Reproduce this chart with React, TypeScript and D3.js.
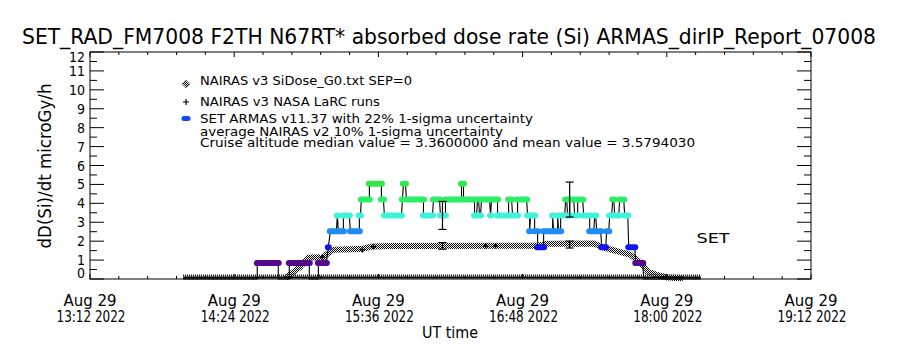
import React from 'react';
import * as d3 from 'd3';

const width = 900;
const height = 350;

// plot frame
const frameLeft = 90;
const frameRight = 811;
const frameTop = 52;
const frameBottom = 279;

const fontFamily = "'Liberation Sans Narrow', 'DejaVu Sans Condensed', 'Liberation Sans', sans-serif";

const titleText = 'SET_RAD_FM7008  F2TH N67RT* absorbed dose rate (Si) ARMAS_dirIP_Report_07008';
const yTitle = 'dD(Si)/dt microGy/h';
const xTitle = 'UT time';

// time axis: minutes after 13:12 UT, 29 Aug 2022
const startUT = new Date(Date.UTC(2022, 7, 29, 13, 12));
const spanMinutes = 360;
const xMajorMinutes = [0, 72, 144, 216, 288, 360];
const yTicks = [0, 1, 2, 3, 4, 5, 6, 7, 8, 9, 10, 11, 12];

// ARMAS dose levels and their plot colours
const doseLevels = [0.84, 1.68, 2.52, 3.36, 4.2, 5.04];
const levelColors = ['#55088c', '#1414ee', '#1e8cf4', '#40f2da', '#2aee66', '#34e64a'];

// SET ARMAS readings: runs of constant value [start min, end min, dose]
const armasRuns: [number, number, number][] = [
	[46.5, 83.5, 0], [83.5, 94, 0.84], [94, 99.5, 0], [99.5, 109.5, 0.84], [109.5, 114, 0],
	[114, 118, 0.84], [119, 119, 1.68], [120, 123, 2.52], [123.5, 123.5, 3.36], [124, 126.5, 2.52],
	[126.5, 129.5, 3.36], [130, 134.5, 2.52], [134.5, 135, 3.36], [135.5, 139.5, 4.2], [139.5, 145.5, 5.04],
	[145.5, 146.5, 4.2], [147, 155.5, 3.36], [156, 156, 4.2], [156.5, 157.5, 5.04], [158, 166.5, 4.2],
	[166.5, 171, 3.36], [171.5, 174.5, 4.2], [175, 177.5, 3.36], [177.5, 185.5, 4.2], [185.5, 186.5, 5.04],
	[186.5, 192, 4.2], [192, 193, 3.36], [193.5, 194, 4.2], [194.5, 195, 3.36], [195.5, 199.5, 4.2],
	[200, 200, 3.36], [200.5, 203.5, 4.2], [203.5, 209, 3.36], [209, 210.5, 4.2], [211, 213.5, 3.36],
	[213.5, 218, 4.2], [218.5, 219.5, 3.36], [219.5, 219.5, 2.52], [220, 222, 3.36], [222, 223.5, 2.52],
	[223.5, 226.5, 1.68], [226.5, 231, 2.52], [231, 231, 3.36], [231.5, 233.5, 2.52], [233.5, 233.5, 3.36],
	[234, 235, 2.52], [235, 237, 3.36], [237.5, 238, 4.2], [238.5, 239.5, 3.36], [239.5, 241.5, 4.2],
	[242, 243.5, 3.36], [243.5, 246, 4.2], [246.5, 249.5, 3.36], [249.5, 251.5, 2.52], [252, 252.5, 3.36],
	[253, 255, 2.52], [255.5, 257.5, 1.68], [258, 259, 2.52], [259.5, 260.5, 3.36], [261, 261.5, 4.2],
	[262, 264, 3.36], [264.5, 266.5, 4.2], [267, 268.5, 3.36], [269, 272, 1.68], [272.5, 276, 0.84],
	[276.5, 305, 0],
];

// NAIRAS v3 SiDose_G0 model
const nairasT = [97.5, 104.5, 109, 114, 116, 118, 121.5, 135, 141, 150, 223.5, 228.5, 251.5, 256.5, 265, 270, 275, 278.5, 285, 288.5, 296];
const nairasDose = [0.05, 0.6, 1.12, 1.15, 1.05, 1.3, 1.55, 1.58, 1.72, 1.75, 1.76, 1.86, 1.88, 1.66, 1.42, 1.27, 0.85, 0.38, 0.15, 0.08, 0.04];

// NAIRAS v3 NASA LaRC runs
const larcT = [116, 136, 141.5, 197.5, 202.5, 287.5];
const larcDose = [1.16, 1.53, 1.7, 1.75, 1.75, 0.1];
const groundSpan = [46.5, 305];

// 1-sigma error bars
const armasErrT = [176, 239.5];
const armasErrDose = [3.36, 4.2];
const armasSigma = 0.22;
const nairasErrT = [176, 239.5];
const nairasErrDose = [1.75, 1.82];
const nairasSigma = 0.1;

const legendLabels = [
	'NAIRAS v3 SiDose_G0.txt SEP=0',
	'NAIRAS v3 NASA LaRC runs',
	'SET ARMAS v11.37 with 22% 1-sigma uncertainty',
	'average NAIRAS v2 10% 1-sigma uncertainty',
	'Cruise altitude median value = 3.3600000 and mean value = 3.5794030',
];
const legendWidths = [212, 180, 333, 303, 495];
const legendBaselines = [85, 106, 123, 136, 147];

const App: React.FC = () => {
	const x = d3.scaleLinear().domain([0, spanMinutes]).range([frameLeft, frameRight]);
	const y = d3.scaleLinear().domain([0, 12]).range([frameBottom, frameTop]);
	const color = d3.scaleOrdinal<number, string>().domain(doseLevels).range(levelColors);

	const fmtDay = d3.utcFormat('%b %d');
	const fmtTime = d3.utcFormat('%H:%M %Y');
	const toDate = (m: number) => new Date(startUT.getTime() + m * 60000);

	const xMinor = d3.range(0, spanMinutes + 0.1, 14.4);
	const yMinor = d3.range(0.5, 12, 1);

	const nairasLine = d3.line<number>()
		.x(d => x(nairasT[d]))
		.y(d => y(nairasDose[d]));

	const armasPoints: [number, number][] = armasRuns.flatMap(([t0, t1, v]) => [[t0, v], [t1, v]] as [number, number][]);
	const armasLine = d3.line<[number, number]>()
		.x(d => x(d[0]))
		.y(d => y(d[1]));

	const errorBar = (t: number, v: number, s: number, key: string) => {
		const cx = x(t);
		const lo = y(v * (1 - s));
		const hi = y(v * (1 + s));
		return (
			<g key={key} stroke="black" strokeWidth={1.2}>
				<line x1={cx} x2={cx} y1={lo} y2={hi} />
				<line x1={cx - 4} x2={cx + 4} y1={lo} y2={lo} />
				<line x1={cx - 4} x2={cx + 4} y1={hi} y2={hi} />
			</g>
		);
	};

	return (
		<svg width={width} height={height} style={{ position: 'absolute', left: 0, top: 0, background: 'white' }}
			fontFamily={fontFamily}>
			<defs>
				<pattern id="dither" width={2} height={2} patternUnits="userSpaceOnUse">
					<rect x={0} y={0} width={1} height={1} fill="black" />
					<rect x={1} y={1} width={1} height={1} fill="black" />
				</pattern>
			</defs>
			<rect width={width} height={height} fill="white" />

			{/* title */}
			<text x={449} y={44} fontSize={21} textAnchor="middle" textLength={854} lengthAdjust="spacingAndGlyphs">
				{titleText}
			</text>

			{/* frame and ticks */}
			<rect x={frameLeft} y={frameTop} width={frameRight - frameLeft} height={frameBottom - frameTop}
				fill="none" stroke="black" strokeWidth={1} />
			<g stroke="black" strokeWidth={1}>
				{yTicks.map(v => (
					<g key={`yt${v}`}>
						<line x1={frameLeft} x2={frameLeft + 14} y1={y(v)} y2={y(v)} />
						<line x1={frameRight} x2={frameRight - 14} y1={y(v)} y2={y(v)} />
					</g>
				))}
				{yMinor.map(v => (
					<g key={`ym${v}`}>
						<line x1={frameLeft} x2={frameLeft + 7} y1={y(v)} y2={y(v)} />
						<line x1={frameRight} x2={frameRight - 7} y1={y(v)} y2={y(v)} />
					</g>
				))}
				{xMinor.map((m, i) => {
					const len = i % 5 === 0 ? 5 : 3;
					return (
						<g key={`xm${i}`}>
							<line x1={x(m)} x2={x(m)} y1={frameBottom} y2={frameBottom - len} />
							<line x1={x(m)} x2={x(m)} y1={frameTop} y2={frameTop + len} />
						</g>
					);
				})}
			</g>

			{/* y tick labels */}
			<g fontSize={14} textAnchor="end">
				{yTicks.map(v => (
					<text key={`yl${v}`} x={85} y={Math.min(Math.max(y(v), 57), 273)} dy="0.36em">{v}</text>
				))}
			</g>
			<text transform={`translate(51,166) rotate(-90)`} fontSize={17} textAnchor="middle"
				textLength={165} lengthAdjust="spacingAndGlyphs">{yTitle}</text>

			{/* x tick labels */}
			<g fontSize={15} textAnchor="middle">
				{xMajorMinutes.map(m => (
					<g key={`xl${m}`}>
						<text x={x(m)} y={306} textLength={53} lengthAdjust="spacingAndGlyphs">{fmtDay(toDate(m))}</text>
						<text x={x(m) + 1} y={322} textLength={69} lengthAdjust="spacingAndGlyphs">{fmtTime(toDate(m))}</text>
					</g>
				))}
			</g>
			<text x={450} y={338} fontSize={15} textAnchor="middle" textLength={56} lengthAdjust="spacingAndGlyphs">{xTitle}</text>

			{/* legend */}
			<g>
				<path d="M186,80 l4,4 l-4,4 l-4,-4 z" fill="url(#dither)" stroke="#555" strokeWidth={0.6} />
				<path d="M183,102 h6 M186,99 v6" stroke="black" strokeWidth={1.2} />
				<rect x={181.5} y={116} width={9} height={5} rx={2.5} fill="#1446ee" />
				{legendLabels.map((s, i) => (
					<text key={`lg${i}`} x={200} y={legendBaselines[i]} fontSize={13}
						textLength={legendWidths[i]} lengthAdjust="spacingAndGlyphs">{s}</text>
				))}
			</g>

			{/* ground-level LaRC runs */}
			<line x1={x(groundSpan[0])} x2={x(groundSpan[1])} y1={y(0) - 1.5} y2={y(0) - 1.5}
				stroke="black" strokeWidth={2} />
			<line x1={x(groundSpan[0])} x2={x(groundSpan[1])} y1={y(0) - 3.5} y2={y(0) - 3.5}
				stroke="black" strokeWidth={2} strokeDasharray="1 1" />

			{/* NAIRAS SiDose model band */}
			<path d={nairasLine(d3.range(nairasT.length)) ?? ''} fill="none" stroke="url(#dither)" strokeWidth={6}
				strokeLinejoin="round" />

			{/* SET ARMAS */}
			<path d={armasLine(armasPoints) ?? ''} fill="none" stroke="black" strokeWidth={1.1} />
			{armasRuns.filter(r => r[2] > 0).map(([t0, t1, v], i) => (
				<rect key={`ar${i}`} x={x(t0) - 3.5} width={x(t1) - x(t0) + 7} y={y(v) - 3} height={6} rx={3}
					fill={color(v)} />
			))}

			{/* LaRC in-flight runs */}
			{larcT.map((t, i) => (
				<path key={`lc${i}`} transform={`translate(${x(t)},${y(larcDose[i])})`} d="M-2.5,0H2.5M0,-2.5V2.5"
					stroke="black" strokeWidth={1.6} />
			))}

			{/* error bars */}
			{armasErrT.map((t, i) => errorBar(t, armasErrDose[i], armasSigma, `ae${i}`))}
			{nairasErrT.map((t, i) => errorBar(t, nairasErrDose[i], nairasSigma, `ne${i}`))}

			<text x={713} y={243} fontSize={14} textAnchor="middle" textLength={33} lengthAdjust="spacingAndGlyphs">SET</text>
		</svg>
	);
};

export default App;
